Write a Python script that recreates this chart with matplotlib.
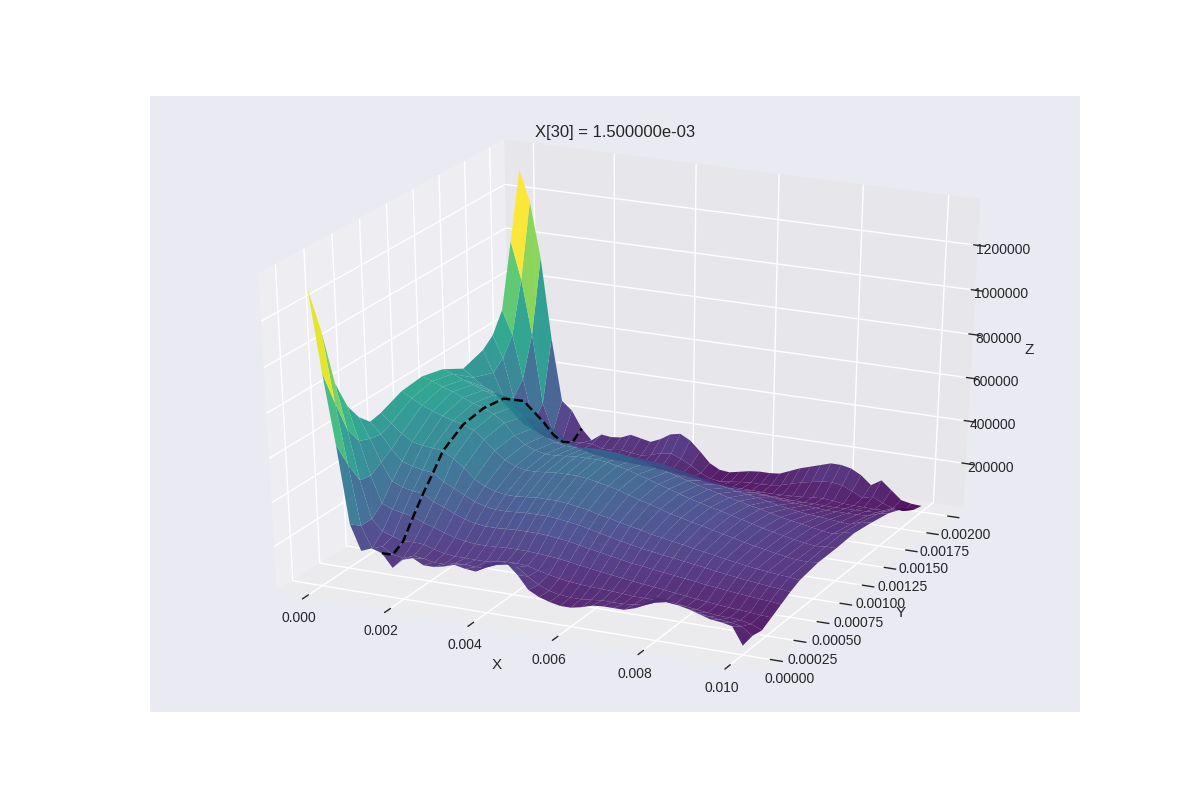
import matplotlib
matplotlib.use('Agg')
import matplotlib.pyplot as plt
import numpy as np

# grid, z in thousands
x_vals = [0, .00025, .0005, .00075, .001, .00125, .0015, .00175, .002, .00225, .0025, .00275,
          .003, .00325, .0035, .00375, .004, .00425, .0045, .00475, .005, .00525, .0055, .00575,
          .006, .00625, .0065, .00675, .007, .00725, .0075, .00775, .008, .00825, .0085, .00875,
          .009, .00925, .0095, .00975, .01]
y_vals = [0, .0001, .0002, .0003, .0004, .0005, .0006, .0008, .001, .0012, .0014, .0016,
          .0017, .0018, .0019, .002]

z_rows = [
    [1320, 960, 650, 300, 185, 205, 190, 130, 175, 190, 165, 165, 175, 190, 180, 175, 215, 235, 235, 190, 130, 105, 90, 80, 80, 90, 105, 110, 110, 110, 125, 155, 190, 185, 170, 160, 145, 130, 125, 115, 35],
    [1110, 800, 530, 260, 165, 180, 150, 142, 160, 155, 145, 145, 155, 160, 155, 160, 180, 190, 185, 150, 120, 100, 90, 85, 85, 90, 95, 95, 95, 100, 105, 125, 135, 130, 120, 110, 100, 95, 90, 80, 45],
    [850, 650, 430, 260, 210, 195, 180, 183, 180, 165, 153, 147, 148, 147, 147, 155, 161, 162, 158, 144, 133, 123, 116, 111, 108, 106, 104, 100, 96, 96, 96, 98, 95, 88, 82, 76, 71, 69, 66, 56, 35],
    [720, 570, 420, 300, 280, 270, 260, 240, 226, 209, 194, 185, 180, 180, 182, 185, 185, 185, 182, 178, 173, 166, 158, 151, 144, 137, 130, 124, 118, 113, 107, 101, 95, 89, 84, 79, 74, 71, 67, 63, 60],
    [640, 550, 450, 370, 350, 340, 335, 305, 287, 265, 247, 235, 229, 229, 232, 235, 235, 235, 232, 226, 220, 210, 201, 192, 183, 174, 165, 160, 152, 146, 140, 134, 128, 120, 116, 110, 104, 100, 95, 92, 85],
    [590, 540, 480, 430, 415, 405, 400, 365, 343, 318, 296, 281, 274, 274, 277, 281, 281, 281, 277, 270, 263, 252, 241, 230, 219, 210, 200, 194, 185, 180, 172, 165, 158, 150, 143, 137, 130, 125, 120, 115, 110],
    [600, 560, 520, 490, 480, 475, 470, 440, 405, 361, 336, 320, 311, 311, 315, 320, 320, 320, 315, 307, 299, 286, 277, 265, 255, 245, 232, 225, 215, 208, 198, 190, 182, 172, 165, 157, 150, 145, 140, 136, 130],
    [640, 615, 590, 570, 555, 540, 530, 510, 475, 430, 395, 372, 362, 362, 367, 372, 372, 372, 367, 357, 347, 335, 320, 305, 292, 278, 263, 252, 240, 231, 218, 207, 197, 184, 175, 166, 156, 148, 142, 140, 145],
    [650, 635, 615, 600, 580, 560, 545, 525, 490, 440, 405, 385, 375, 375, 380, 385, 385, 385, 380, 370, 360, 345, 330, 315, 300, 285, 270, 258, 245, 235, 222, 210, 198, 185, 175, 165, 155, 147, 140, 145, 145],
    [625, 610, 590, 575, 555, 540, 530, 500, 460, 415, 385, 362, 352, 352, 356, 360, 358, 356, 350, 340, 331, 315, 302, 290, 276, 262, 250, 238, 226, 217, 205, 195, 184, 172, 163, 155, 146, 138, 132, 145, 150],
    [570, 535, 500, 480, 470, 465, 460, 420, 375, 335, 305, 288, 278, 275, 275, 275, 272, 270, 268, 265, 258, 248, 238, 228, 215, 205, 195, 185, 178, 170, 160, 150, 142, 135, 128, 125, 120, 115, 112, 130, 135],
    [600, 500, 390, 320, 305, 300, 300, 270, 240, 212, 195, 185, 178, 178, 178, 178, 176, 175, 172, 168, 162, 155, 148, 140, 132, 125, 120, 115, 110, 105, 100, 96, 92, 88, 84, 85, 85, 86, 88, 105, 115],
    [640, 540, 360, 240, 220, 215, 210, 195, 178, 160, 148, 140, 135, 133, 130, 128, 125, 120, 115, 110, 105, 100, 95, 90, 85, 82, 78, 76, 72, 70, 68, 68, 68, 66, 66, 68, 68, 70, 72, 85, 95],
    [730, 620, 420, 220, 160, 150, 145, 135, 125, 110, 105, 100, 95, 95, 95, 100, 100, 90, 80, 70, 60, 55, 52, 50, 50, 50, 48, 48, 50, 52, 55, 60, 62, 58, 52, 50, 50, 48, 50, 65, 75],
    [1020, 850, 600, 280, 150, 125, 115, 120, 120, 105, 105, 112, 105, 100, 110, 125, 130, 112, 88, 58, 38, 32, 38, 44, 48, 48, 50, 58, 72, 85, 95, 105, 108, 100, 80, 55, 68, 45, 28, 22, 35],
    [1320, 1180, 930, 560, 270, 230, 150, 100, 135, 130, 135, 155, 145, 135, 155, 185, 195, 170, 125, 75, 50, 45, 55, 65, 70, 70, 75, 95, 115, 130, 145, 160, 160, 150, 125, 85, 115, 75, 35, 25, 22],
]
x_index = 6  # X[30] column

plt.style.use('seaborn-v0_8')
plt.rcParams['font.family'] = ['Liberation Sans', 'DejaVu Sans']
plt.rcParams['axes3d.automargin'] = True

X, Y = np.meshgrid(x_vals, y_vals)
Z = np.array(z_rows) * 1000.0

fig = plt.figure(figsize=(12, 8), dpi=100)
ax = fig.add_subplot(111, projection='3d')
ax.view_init(elev=28, azim=-65)
ax.set_box_aspect((1, 1, 1.01), zoom=0.96)
ax.apply_aspect = lambda position=None: None  # stretch the box over the whole axes
ax.plot_surface(X, Y, Z, cmap='viridis', rstride=1, cstride=1, linewidth=0, alpha=0.9)
ax.plot(X[:, x_index], Y[:, x_index], Z[:, x_index], 'k--', zorder=10)
ax.set_zlim(21000, 1375000)
ax.set_title('X[30] = %e' % x_vals[x_index], y=1.0)
ax.set_xlabel('X', labelpad=0)
ax.set_ylabel('Y', labelpad=0)
ax.set_zlabel('Z')
ax.ticklabel_format(style='plain', axis='z', useOffset=False)
ax.tick_params(axis='x', pad=1)
ax.tick_params(axis='y', pad=1)
ax.tick_params(axis='z', pad=3)
fig.savefig('out.png', dpi=100)
